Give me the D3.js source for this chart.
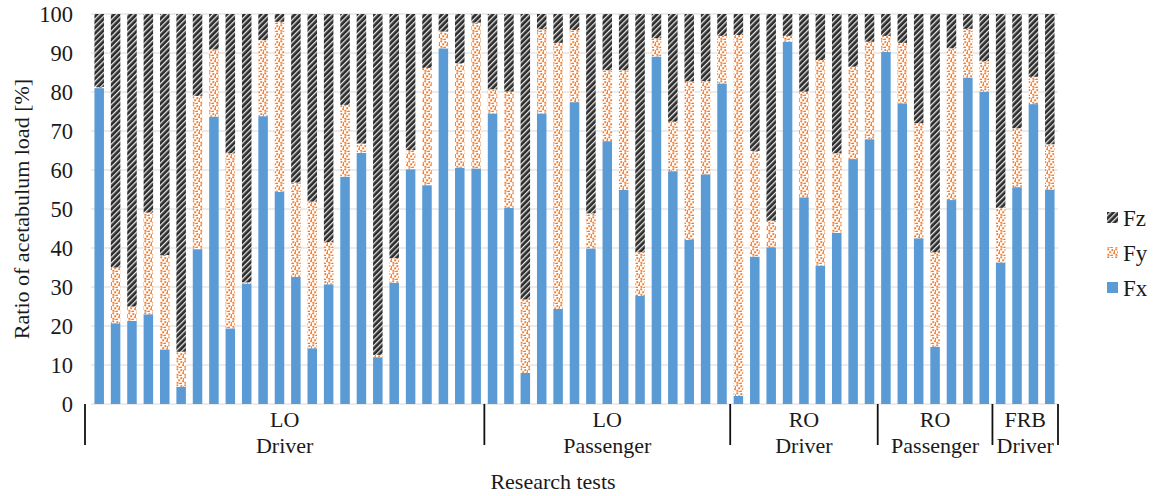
<!DOCTYPE html>
<html>
<head>
<meta charset="utf-8">
<script src="https://cdn.jsdelivr.net/npm/d3@7"></script>
<style>
  html, body { margin: 0; padding: 0; background: #fff; }
  svg { display: block; }
  text { font-family: "Liberation Serif", "Times New Roman", serif; fill: #1a1a1a; }
</style>
</head>
<body>
<svg id="chart" width="1156" height="496"></svg>
<script>
// Share of the acetabulum load carried by each force component, per research test (%)
const tests = d3.range(1, 60);

const fx = [81.0, 20.7, 21.3, 23.0, 14.0, 4.4, 39.7, 73.7, 19.4, 30.9, 73.8, 54.4,
            32.6, 14.3, 30.7, 58.3, 64.4, 12.0, 31.1, 60.2, 56.1, 91.2, 60.6, 60.4,
            74.5, 50.3, 8.0, 74.5, 24.4, 77.4, 39.9, 67.4, 54.9, 27.7, 89.1, 59.7, 42.1, 58.9, 82.2,
            2.1, 37.8, 40.2, 92.9, 53.0, 35.5, 43.9, 62.8, 67.9,
            90.3, 77.1, 42.5, 14.7, 52.3, 83.7, 80.1,
            36.3, 55.6, 76.9, 55.0];

const fy = [0.3, 14.3, 3.7, 26.1, 24.2, 9.0, 39.3, 17.2, 44.9, 0.3, 19.5, 43.6,
            24.2, 37.6, 10.8, 18.4, 2.4, 0.6, 6.3, 4.9, 30.1, 4.3, 26.8, 37.4,
            6.2, 29.8, 18.8, 21.6, 68.2, 18.5, 9.0, 18.2, 30.7, 11.2, 4.7, 12.7, 40.6, 23.9, 12.2,
            92.5, 27.1, 6.8, 1.5, 27.1, 52.7, 20.4, 23.7, 25.0,
            4.1, 15.5, 29.5, 24.2, 38.9, 12.5, 7.8,
            14.0, 15.1, 7.0, 11.6];

const fz = [18.7, 65.0, 75.0, 50.9, 61.8, 86.6, 21.0, 9.1, 35.7, 68.8, 6.7, 2.0,
            43.2, 48.1, 58.5, 23.3, 33.2, 87.4, 62.6, 34.9, 13.8, 4.5, 12.6, 2.2,
            19.3, 19.9, 73.2, 3.9, 7.4, 4.1, 51.1, 14.4, 14.4, 61.1, 6.2, 27.6, 17.3, 17.2, 5.6,
            5.4, 35.1, 53.0, 5.6, 19.9, 11.8, 35.7, 13.5, 7.1,
            5.6, 7.4, 28.0, 61.1, 8.8, 3.8, 12.1,
            49.7, 29.3, 16.1, 33.4];

// Two-level category axis: impact side and occupant position
const groupTop = ["LO", "LO", "RO", "RO", "FRB"];
const groupBottom = ["Driver", "Passenger", "Driver", "Passenger", "Driver"];
const groupSizes = [24, 15, 9, 7, 4];

const seriesNames = ["Fx", "Fy", "Fz"];
const yTicks = [0, 10, 20, 30, 40, 50, 60, 70, 80, 90, 100];

const rows = tests.map((t, i) => ({ test: t, Fx: fx[i], Fy: fy[i], Fz: fz[i] }));

const svg = d3.select("#chart");
const margin = { left: 91, right: 98, top: 14, bottom: 92 };
const W = 1156, H = 496;

const x = d3.scaleBand()
  .domain(tests)
  .range([margin.left, W - margin.right])
  .paddingInner(0.42)
  .paddingOuter(0.21);

const y = d3.scaleLinear().domain([0, 100]).range([H - margin.bottom, margin.top]);

// Fill patterns
const defs = svg.append("defs");

const hatch = defs.append("pattern")
  .attr("id", "hatch-fz")
  .attr("patternUnits", "userSpaceOnUse")
  .attr("width", 4).attr("height", 4)
  .attr("patternTransform", "rotate(45)");
hatch.append("rect").attr("width", 4).attr("height", 4).attr("fill", "#2b2b2b");
hatch.append("rect").attr("x", 0).attr("y", 0).attr("width", 1.3).attr("height", 4).attr("fill", "#e6e6e6");

const dots = defs.append("pattern")
  .attr("id", "dots-fy")
  .attr("patternUnits", "userSpaceOnUse")
  .attr("width", 8).attr("height", 8);
dots.append("rect").attr("width", 8).attr("height", 8).attr("fill", "#fff");
[[0.3, 0.4], [4.4, 1.2], [2.2, 3.3], [6.2, 4.2], [0.4, 5.8], [4.0, 6.6], [7.0, 2.2], [2.6, 7.2]].forEach(([dx, dy]) => {
  dots.append("rect").attr("x", dx).attr("y", dy).attr("width", 1.9).attr("height", 1.9).attr("fill", "#ED7D31");
});

const fills = { Fx: "#5B9BD5", Fy: "url(#dots-fy)", Fz: "url(#hatch-fz)" };

// Gridlines
svg.append("g")
  .selectAll("line")
  .data(yTicks)
  .join("line")
  .attr("x1", margin.left).attr("x2", W - margin.right)
  .attr("y1", d => y(d)).attr("y2", d => y(d))
  .attr("stroke", "#d9d9d9").attr("stroke-width", 1);

// Stacked bars
const stack = d3.stack().keys(seriesNames)(rows);
svg.append("g")
  .selectAll("g")
  .data(stack)
  .join("g")
  .attr("fill", d => fills[d.key])
  .selectAll("rect")
  .data(d => d)
  .join("rect")
  .attr("x", d => x(d.data.test))
  .attr("width", x.bandwidth())
  .attr("y", d => y(d[1]))
  .attr("height", d => y(d[0]) - y(d[1]));

// Y axis labels
const yAxis = d3.axisLeft(y).tickValues(yTicks).tickSize(0).tickPadding(0);
const gy = svg.append("g")
  .attr("transform", `translate(${margin.left - 18},0)`)
  .call(yAxis);
gy.select(".domain").remove();
gy.selectAll("text")
  .attr("font-family", "Liberation Serif, Times New Roman, serif")
  .attr("font-size", 22.5)
  .attr("fill", "#1a1a1a");

svg.append("text")
  .attr("transform", `translate(29,${(y(0) + y(100)) / 2}) rotate(-90)`)
  .attr("text-anchor", "middle")
  .attr("font-size", 22)
  .text("Ratio of acetabulum load [%]");

// Grouped category axis
const bounds = [0];
groupSizes.forEach(s => bounds.push(bounds[bounds.length - 1] + s));
const step = x.step();
const edgeX = i => {
  if (i === 0) return margin.left - 6;
  if (i === tests.length) return W - margin.right;
  return x(tests[i]) - (step - x.bandwidth()) / 2;
};

const axisG = svg.append("g");
axisG.selectAll("line")
  .data(bounds)
  .join("line")
  .attr("x1", d => edgeX(d)).attr("x2", d => edgeX(d))
  .attr("y1", y(0)).attr("y2", y(0) + 41)
  .attr("stroke", "#111").attr("stroke-width", 1.8);

const groups = groupSizes.map((s, i) => ({
  top: groupTop[i], bottom: groupBottom[i],
  cx: (edgeX(bounds[i]) + edgeX(bounds[i + 1])) / 2
}));
axisG.selectAll("text.top")
  .data(groups)
  .join("text")
  .attr("class", "top")
  .attr("x", d => d.cx).attr("y", y(0) + 23)
  .attr("text-anchor", "middle").attr("font-size", 22)
  .text(d => d.top);
axisG.selectAll("text.bottom")
  .data(groups)
  .join("text")
  .attr("class", "bottom")
  .attr("x", d => d.cx).attr("y", y(0) + 49)
  .attr("text-anchor", "middle").attr("font-size", 22)
  .text(d => d.bottom);

svg.append("text")
  .attr("x", 553).attr("y", 489)
  .attr("text-anchor", "middle").attr("font-size", 22)
  .text("Research tests");

// Legend
const legend = svg.append("g").attr("transform", "translate(1107,0)");
const legendItems = ["Fz", "Fy", "Fx"];
const legendY = [218, 253, 288];
legendItems.forEach((k, i) => {
  legend.append("rect")
    .attr("x", 0).attr("y", legendY[i] - 6)
    .attr("width", 11).attr("height", 11)
    .attr("fill", fills[k]);
  legend.append("text")
    .attr("x", 16).attr("y", legendY[i] + 8)
    .attr("font-size", 23)
    .text(k);
});
</script>
</body>
</html>
